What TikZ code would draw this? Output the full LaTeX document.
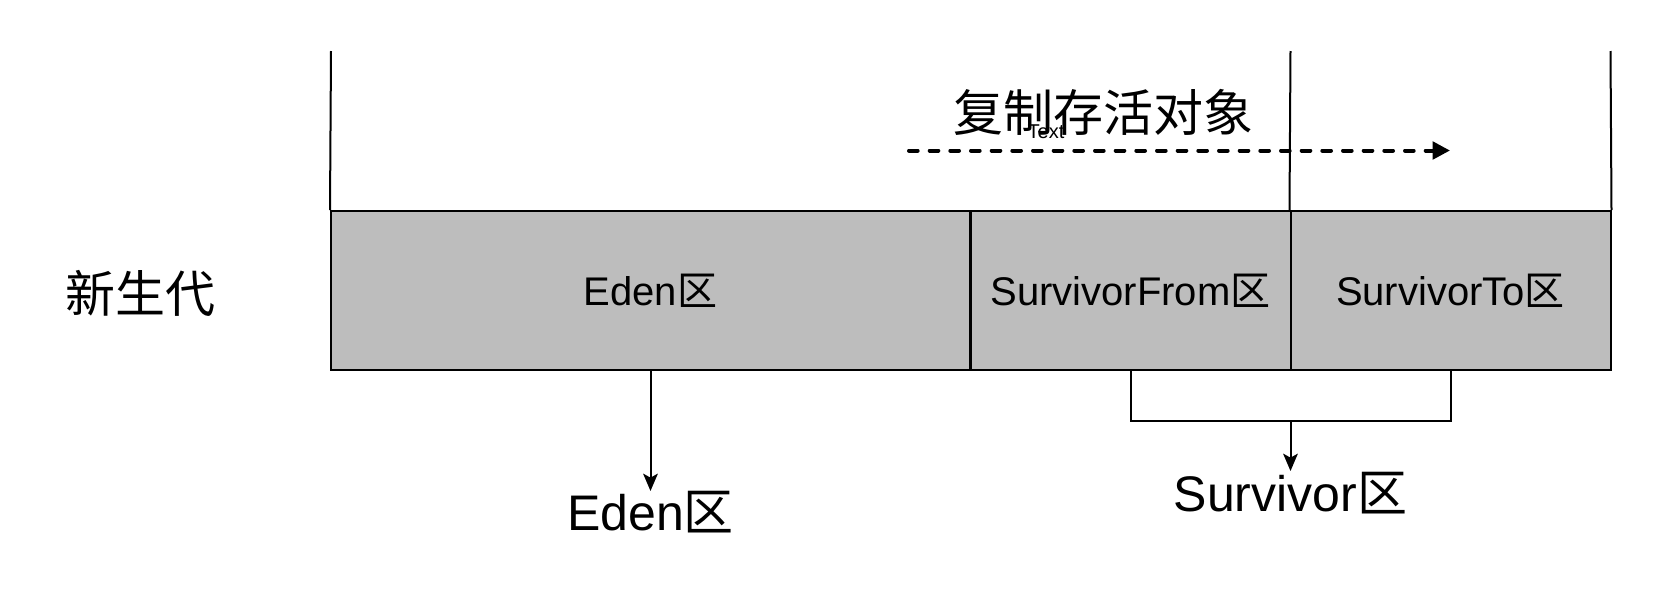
\documentclass[tikz,border=0pt]{standalone}
\usepackage{fontspec}
\setmainfont{Liberation Sans}
\newfontfamily\cjk{Noto Sans CJK SC}
\usetikzlibrary{arrows.meta}
\definecolor{boxgray}{RGB}{189,189,189}
\tikzset{
  region/.style={draw=black, line width=1.5pt, fill=boxgray, minimum height=119.25pt, inner sep=0pt, font=\fontsize{30}{36}\selectfont},
  wall/.style={line width=1.5pt},
  biglabel/.style={inner sep=0pt, font=\fontsize{37.5}{44}\selectfont},
  conn/.style={line width=1.5pt, -{Stealth[length=13pt,width=11pt,inset=3pt]}},
  copyarrow/.style={line width=3pt, line cap=round, dash pattern=on 6.5pt off 9pt, -{Triangle[length=13pt,width=13pt]}}
}
\begin{document}
\begin{tikzpicture}[x=0.75pt,y=-0.75pt]
\useasboundingbox (0,0) rectangle (1672,590);
% regions
\node[region, minimum width=479.25pt] (eden) at (650.5,290.5) {Eden{\cjk 区}};
\node[region, minimum width=240pt] (from) at (1130.5,290.5) {SurvivorFrom{\cjk 区}};
\node[region, minimum width=240pt] (to) at (1450.5,290.5) {SurvivorTo{\cjk 区}};
% top walls
\coordinate (wl) at (331,51);
\coordinate (wm) at (1290.5,51);
\coordinate (wr) at (1610.5,51);
\draw[wall] (wl) -- (eden.north west);
\draw[wall] (wm) -- (to.north west);
\draw[wall] (wr) -- (to.north east);
% labels
\node[biglabel] (young) at (140,293) {\cjk 新生代};
\node[biglabel] (copytxt) at (1103,112) {\cjk 复制存活对象};
\node[inner sep=0pt, font=\fontsize{15}{18}\selectfont] (tiny) at (1046,132) {Text};
% copy arrow
\coordinate (cs) at (909,150.5);
\coordinate (ce) at (1450,150.5);
\draw[copyarrow] (cs) -- (ce);
% Eden arrow
\node[biglabel] (edenlbl) at (650.5,512) {Eden{\cjk 区}};
\coordinate (edentip) at (650.5,491);
\draw[conn] (eden.south) -- (edentip);
% survivor bracket
\node[biglabel] (survlbl) at (1290.5,493) {Survivor{\cjk 区}};
\coordinate (bl) at (1130.5,421);
\coordinate (br) at (1450.5,421);
\coordinate (bm) at (1290.5,421);
\coordinate (survtip) at (1290.5,471);
\draw[wall] (from.south) -- (bl) -- (br) -- (to.south);
\draw[conn] (bm) -- (survtip);
\end{tikzpicture}
\end{document}
